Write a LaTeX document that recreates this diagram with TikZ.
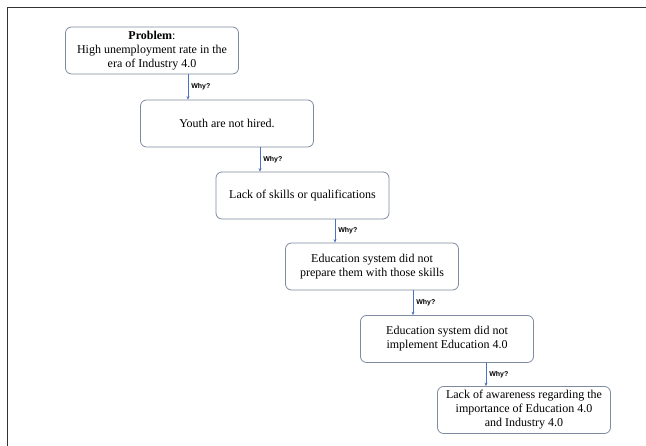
\documentclass[tikz,border=0pt]{standalone}
\usepackage{fontspec}
\setmainfont{Liberation Serif}
\setsansfont{Liberation Sans}
\usetikzlibrary{arrows.meta}
\definecolor{boxline}{HTML}{7E8AA0}
\definecolor{arrowline}{HTML}{4A72C0}
\begin{document}
\begin{tikzpicture}
[x=1pt,y=1pt,
  whybox/.style={shape=rectangle,rounded corners=6pt,draw=boxline,
    line width=0.8pt,minimum width=173pt,minimum height=47pt,
    align=center,font=\fontsize{12}{14}\selectfont,inner sep=2pt},
  whyarrow/.style={-{Stealth[length=3.5pt,width=3pt]},draw=arrowline,line width=0.6pt},
  whylabel/.style={right,font=\sffamily\bfseries\fontsize{7}{8}\selectfont,inner sep=3pt}]
\useasboundingbox (0,0) rectangle (646,446);
%% frame
\draw[line width=1pt,black!80] (646,438) -- (7,438) -- (7,0);
%% boxes
\foreach \nodename/\x/\y/\txt in {
  b1/152/395.5/{\textbf{Problem}:\\High unemployment rate in the\\era of Industry 4.0},
  b2/227/322.5/{Youth are not hired.},
  b3/302.5/250.5/{Lack of skills or qualifications},
  b4/372/179.5/{Education system did not\\prepare them with those skills},
  b5/447/107/{Education system did not\\implement Education 4.0},
  b6/524/36/{Lack of awareness regarding the\\importance of Education 4.0\\and Industry 4.0}} {
  \node (\nodename) at (\x,\y) [whybox] {\txt};
}
%% arrows
\foreach \startnode/\endnode/\shift in {b1/b2/36, b2/b3/33, b3/b4/32.5,
  b4/b5/41, b5/b6/39} {
  \draw[whyarrow] ([xshift=\shift pt]\startnode.south)
    -- ([xshift=\shift pt]\startnode.south |- \endnode.north)
    node[midway,whylabel] {Why?};
}
\end{tikzpicture}
\end{document}
